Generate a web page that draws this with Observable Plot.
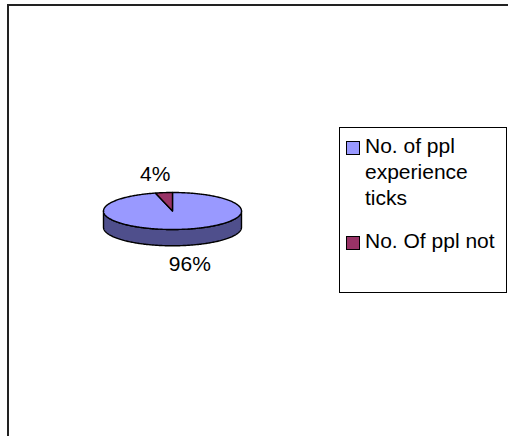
<!DOCTYPE html>
<html>
<head>
<meta charset="utf-8">
<script src="https://cdn.jsdelivr.net/npm/d3@7"></script>
<script src="https://cdn.jsdelivr.net/npm/@observablehq/plot@0.6"></script>
<style>
  body { margin: 0; background: #fff; font-family: "Liberation Sans", Arial, sans-serif; }
  #wrap { position: relative; width: 508px; height: 436px; overflow: hidden; }
  #wrap svg { position: absolute; left: 0; top: 0; }
  #frame { position: absolute; left: 7px; top: 4px; width: 520px; height: 460px;
           border-top: 2px solid #222; border-left: 2px solid #222; }
  #legend { position: absolute; left: 339px; top: 127px; width: 168px; height: 166px;
            box-sizing: border-box; border: 1px solid #000; font-size: 21px; color: #000; }
  .item { position: absolute; left: 6px; }
  .swatch { position: absolute; left: 0; width: 14px; height: 14px; box-sizing: border-box;
            border: 1px solid #000; }
  .label { position: absolute; left: 19px; width: 140px; line-height: 26px; }
</style>
</head>
<body>
<div id="wrap"><div id="frame"></div><div id="legend"></div></div>
<script>
// Survey answers: share of people who had ticks vs. those who did not
const categories = ["No. of ppl experience ticks", "No. Of ppl not"];
const values = [96, 4];
const colors = ["#9999FF", "#993366"];
const sideColors = ["#4F4F8C", "#4D1A33"];

// Pie geometry in unit space: the ellipse spans [-1, 1] on both axes,
// the rim depth is expressed in y units.
const depth = 0.88;
const labelRadius = 2.0;

const total = d3.sum(values);
const arcs = d3.pie().sort(null).value(d => d.value)(
  categories.map((name, i) => ({name, value: values[i], i}))
);

const rad = Math.PI / 180;
function arcPoints(a0, a1, dy) {
  const n = Math.max(2, Math.ceil(Math.abs(a1 - a0) / rad));
  return d3.range(n + 1).map(k => {
    const a = a0 + (a1 - a0) * k / n;
    return {x: Math.sin(a), y: -Math.cos(a) + dy};
  });
}

// Top face of each slice: centre -> arc -> centre
const topFaces = arcs.flatMap(a => {
  const pts = [{x: 0, y: 0}, ...arcPoints(a.startAngle, a.endAngle, 0), {x: 0, y: 0}];
  return pts.map(p => ({...p, name: a.data.name}));
});

// Visible rim: part of each slice between 3 o'clock and 9 o'clock
const rims = arcs.flatMap(a => {
  const s = Math.max(a.startAngle, Math.PI / 2);
  const e = Math.min(a.endAngle, 3 * Math.PI / 2);
  if (e <= s) return [];
  const upper = arcPoints(s, e, 0);
  const lower = arcPoints(e, s, depth);
  return [...upper, ...lower, upper[0]].map(p => ({...p, name: a.data.name + " rim"}));
});

// Percent labels, placed outside each slice along its mid angle
const labels = arcs.map(a => {
  const m = (a.startAngle + a.endAngle) / 2;
  const y = -Math.cos(m) * labelRadius;
  return {
    x: Math.sin(m) * labelRadius,
    y: y > 0 ? y + depth : y,
    text: `${Math.round(a.data.value / total * 100)}%`
  };
});

const chart = Plot.plot({
  width: 508,
  height: 436,
  margin: 0,
  style: {background: "transparent", fontFamily: "Liberation Sans, Arial, sans-serif"},
  x: {domain: [-1, 1], range: [103, 241], axis: null},
  y: {domain: [-1, 1], range: [192, 229], axis: null},
  color: {domain: [...categories, ...categories.map(c => c + " rim")], range: [...colors, ...sideColors]},
  marks: [
    Plot.line(rims, {x: "x", y: "y", z: "name", fill: "name", stroke: "#000", strokeWidth: 1.4, strokeLinejoin: "round"}),
    Plot.line(topFaces, {x: "x", y: "y", z: "name", fill: "name", stroke: "#000", strokeWidth: 1.4, strokeLinejoin: "round"}),
    Plot.text(labels, {x: "x", y: "y", text: "text", fontSize: 21, fill: "#000"})
  ]
});
document.getElementById("wrap").prepend(chart);

// Legend
const legend = d3.select("#legend");
const tops = [5, 100];
categories.forEach((c, i) => {
  const item = legend.append("div").attr("class", "item").style("top", tops[i] + "px");
  item.append("div").attr("class", "swatch").style("top", "8px").style("background", colors[i]);
  item.append("div").attr("class", "label").text(c);
});
</script>
</body>
</html>
